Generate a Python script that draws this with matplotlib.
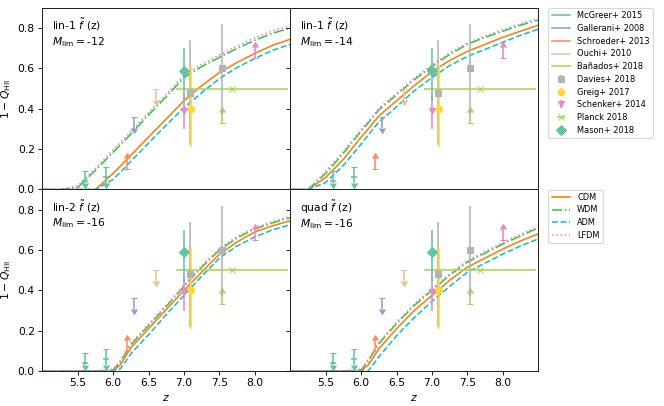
import matplotlib.pyplot as plt
from matplotlib.lines import Line2D

# redshift grid the model curves were read on
z_grid = [5.0, 5.25, 5.5, 5.75, 6.0, 6.1, 6.25, 6.5, 6.75, 7.0, 7.25, 7.5, 7.75, 8.0, 8.25, 8.5]

# lin-1, M_lim = -12
cdm_lin1_12 = [0, 0, 0, 0, 0.08, 0.115, 0.17, 0.26, 0.35, 0.44, 0.515, 0.58, 0.63, 0.675, 0.715, 0.745]
wdm_lin1_12 = [0, 0, 0.01, 0.095, 0.185, 0.22, 0.275, 0.37, 0.46, 0.555, 0.61, 0.655, 0.70, 0.74, 0.775, 0.80]
adm_lin1_12 = [0, 0, 0, 0, 0.05, 0.085, 0.14, 0.23, 0.32, 0.405, 0.48, 0.55, 0.605, 0.65, 0.69, 0.72]
lfdm_lin1_12 = [0, 0, 0.02, 0.105, 0.197, 0.232, 0.288, 0.382, 0.472, 0.567, 0.622, 0.667, 0.712, 0.752, 0.787, 0.812]

# lin-1, M_lim = -14
cdm_lin1_14 = [0, 0, 0.06, 0.15, 0.26, 0.30, 0.365, 0.44, 0.515, 0.585, 0.64, 0.685, 0.72, 0.755, 0.785, 0.815]
wdm_lin1_14 = [0, 0, 0.08, 0.18, 0.29, 0.33, 0.395, 0.47, 0.545, 0.61, 0.67, 0.72, 0.755, 0.785, 0.815, 0.84]
adm_lin1_14 = [0, 0, 0.035, 0.12, 0.225, 0.27, 0.335, 0.41, 0.49, 0.555, 0.615, 0.66, 0.695, 0.73, 0.765, 0.795]
lfdm_lin1_14 = [0, 0, 0.09, 0.19, 0.298, 0.338, 0.403, 0.478, 0.553, 0.618, 0.678, 0.728, 0.763, 0.793, 0.823, 0.848]

# lin-2, M_lim = -16
cdm_lin2_16 = [0, 0, 0, 0, 0, 0.03, 0.115, 0.21, 0.305, 0.40, 0.49, 0.58, 0.64, 0.69, 0.72, 0.745]
wdm_lin2_16 = [0, 0, 0, 0, 0.005, 0.045, 0.13, 0.225, 0.32, 0.42, 0.515, 0.60, 0.66, 0.705, 0.735, 0.76]
adm_lin2_16 = [0, 0, 0, 0, 0, 0.01, 0.085, 0.18, 0.28, 0.375, 0.47, 0.56, 0.62, 0.665, 0.70, 0.725]
lfdm_lin2_16 = [0, 0, 0, 0, 0.01, 0.052, 0.138, 0.232, 0.327, 0.427, 0.522, 0.607, 0.667, 0.712, 0.742, 0.767]

# quad, M_lim = -16
cdm_quad_16 = [0, 0, 0, 0, 0, 0.03, 0.11, 0.21, 0.30, 0.375, 0.45, 0.515, 0.56, 0.605, 0.645, 0.68]
wdm_quad_16 = [0, 0, 0, 0, 0.005, 0.05, 0.135, 0.235, 0.325, 0.40, 0.475, 0.54, 0.585, 0.63, 0.67, 0.71]
adm_quad_16 = [0, 0, 0, 0, 0, 0, 0.07, 0.175, 0.265, 0.345, 0.42, 0.49, 0.535, 0.58, 0.62, 0.655]
lfdm_quad_16 = [0, 0, 0, 0, 0.01, 0.058, 0.143, 0.243, 0.333, 0.408, 0.483, 0.548, 0.593, 0.638, 0.678, 0.718]

panel_names = [r'lin-1 $\tilde{f}$ (z)', r'lin-1 $\tilde{f}$ (z)', r'lin-2 $\tilde{f}$ (z)', r'quad $\tilde{f}$ (z)']
panel_mlim = ['-12', '-14', '-16', '-16']
panel_curves = [
    [cdm_lin1_12, wdm_lin1_12, adm_lin1_12, lfdm_lin1_12],
    [cdm_lin1_14, wdm_lin1_14, adm_lin1_14, lfdm_lin1_14],
    [cdm_lin2_16, wdm_lin2_16, adm_lin2_16, lfdm_lin2_16],
    [cdm_quad_16, wdm_quad_16, adm_quad_16, lfdm_quad_16],
]
model_names = ['CDM', 'WDM', 'ADM', 'LFDM']
model_colors = ['C1', 'limegreen', 'C9', 'violet']
model_styles = ['-', '-.', '--', ':']

# observational constraints on the neutral fraction
mcgreer_z = [5.6, 5.9]
mcgreer_x = [0.04, 0.06]
mcgreer_up = [0.09, 0.11]
gallerani_z, gallerani_up = 6.3, 0.36
schroeder_z, schroeder_lo = 6.2, 0.10
ouchi_z, ouchi_up = 6.6, 0.50
banados_z, banados_lo = 7.54, 0.33
davies_z = [7.09, 7.54]
davies_x = [0.48, 0.60]
davies_err = [[0.26, 0.23], [0.26, 0.22]]
greig_z, greig_x, greig_err = 7.1, 0.40, [[0.19], [0.21]]
schenker_z, schenker_x, schenker_err = 7.0, 0.39, [[0.09], [0.08]]
schenker_lim_z, schenker_lim = 8.0, 0.65
planck_z, planck_x, planck_zerr = 7.68, 0.5, 0.79
mason_z, mason_x, mason_err = 7.0, 0.59, [[0.15], [0.11]]

set2 = {'mcgreer': '#66c2a5', 'gallerani': '#8da0cb', 'schroeder': '#fc8d62',
        'ouchi': '#e5c494', 'banados': '#a6d854', 'davies': '#b3b3b3',
        'greig': '#ffd92f', 'schenker': '#e78ac3', 'planck': '#a6d854', 'mason': '#66c2a5'}
lim_len = 0.055
leg_kw = dict(loc='upper left', bbox_to_anchor=(1.04, 1.0), borderaxespad=0,
              fontsize=7.7, handlelength=2.3, labelspacing=0.45)

fig, axes = plt.subplots(2, 2, sharex=True, sharey=True, figsize=(664 / 77, 406 / 77), dpi=77)
fig.subplots_adjust(left=42.3 / 664, right=538.3 / 664, top=1 - 8 / 406, bottom=1 - 371 / 406,
                    wspace=0, hspace=0)

for i, ax in enumerate(axes.flat):
    for q, name, c, ls in zip(panel_curves[i], model_names, model_colors, model_styles):
        ax.plot(z_grid, q, color=c, ls=ls, label=name)

    # limits
    ax.errorbar(mcgreer_z, mcgreer_up, yerr=[u - 0.03 for u in mcgreer_up], uplims=True,
                color=set2['mcgreer'], capsize=3, ls='none')
    ax.plot(mcgreer_z, mcgreer_x, '_', color=set2['mcgreer'], ms=6, mew=1.5)
    ax.errorbar(gallerani_z, gallerani_up, yerr=lim_len, uplims=True, color=set2['gallerani'], capsize=3)
    ax.errorbar(schroeder_z, schroeder_lo, yerr=lim_len, lolims=True, color=set2['schroeder'], capsize=3)
    ax.errorbar(ouchi_z, ouchi_up, yerr=lim_len, uplims=True, color=set2['ouchi'], capsize=3)
    ax.errorbar(banados_z, banados_lo, yerr=lim_len, lolims=True, color=set2['banados'], capsize=3)
    ax.errorbar(schenker_lim_z, schenker_lim, yerr=lim_len, lolims=True, color=set2['schenker'], capsize=3)

    # measurements
    eb_davies = ax.errorbar(davies_z, davies_x, yerr=davies_err, fmt='s', color=set2['davies'])
    eb_greig = ax.errorbar(greig_z, greig_x, yerr=greig_err, fmt='o', color=set2['greig'])
    eb_schenker = ax.errorbar(schenker_z, schenker_x, yerr=schenker_err, fmt='v', color=set2['schenker'])
    eb_planck = ax.errorbar(planck_z, planck_x, xerr=planck_zerr, fmt='x', color=set2['planck'])
    eb_mason = ax.errorbar(mason_z, mason_x, yerr=mason_err, fmt='D', color=set2['mason'])

    ax.text(0.04, 0.95, panel_names[i] + '\n' + r'$M_{\rm lim} = $' + panel_mlim[i],
            transform=ax.transAxes, va='top', ha='left')

    if i == 1:
        handles = [Line2D([], [], color=set2[k]) for k in
                   ['mcgreer', 'gallerani', 'schroeder', 'ouchi', 'banados']]
        handles += [eb_davies, eb_greig, eb_schenker, eb_planck, eb_mason]
        labels = ['McGreer+ 2015', 'Gallerani+ 2008', 'Schroeder+ 2013', 'Ouchi+ 2010',
                  'Bañados+ 2018', 'Davies+ 2018', 'Greig+ 2017', 'Schenker+ 2014',
                  'Planck 2018', 'Mason+ 2018']
        ax.legend(handles, labels, **leg_kw)
    if i == 3:
        h, l = ax.get_legend_handles_labels()
        ax.legend(h[:4], l[:4], **leg_kw)

ax = axes[0, 0]
ax.set_xlim(5.0, 8.5)
ax.set_ylim(0, 0.9)
ax.set_xticks([5.5, 6.0, 6.5, 7.0, 7.5, 8.0])
ax.set_yticks([0.0, 0.2, 0.4, 0.6, 0.8])
for a in axes[:, 0]:
    a.set_ylabel(r'$1-Q_{\rm HII}$')
for a in axes[1, :]:
    a.set_xlabel(r'$z$')

fig.savefig('out.png', dpi=77)
